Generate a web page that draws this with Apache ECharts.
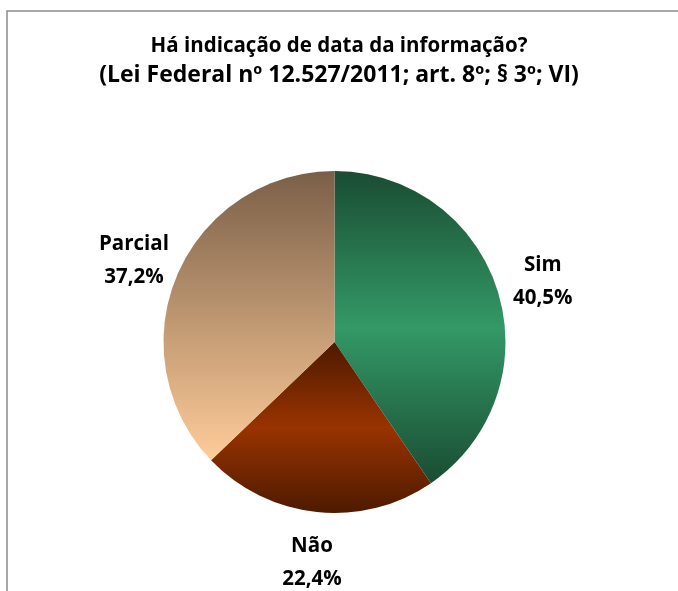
<!DOCTYPE html>
<html>
<head>
<meta charset="utf-8">
<script src="https://cdn.jsdelivr.net/npm/echarts@6/dist/echarts.min.js"></script>
<style>
  html, body { margin: 0; padding: 0; background: #fff; }
  #pieChart { width: 678px; height: 591px; }
</style>
</head>
<body>
<div id="pieChart"></div>
<script>
// categorias e valores (%)
const categories = ["Sim", "Não", "Parcial"];
const values = [40.5, 22.4, 37.2];
const valueLabels = ["40,5%", "22,4%", "37,2%"];

const chartEl = document.getElementById("pieChart");
const myChart = echarts.init(chartEl);

// centro e raio da pizza
const cx = 334.5;
const cy = 342;
const radius = 171;
const labelDist = 218;

// gradientes verticais de cada fatia
const sliceColors = [
  new echarts.graphic.LinearGradient(0, 0, 0, 1, [
    { offset: 0, color: "#1a4c33" },
    { offset: 0.5, color: "#339966" },
    { offset: 1, color: "#1a4c33" }
  ]),
  new echarts.graphic.LinearGradient(0, 0, 0, 1, [
    { offset: 0, color: "#4d1a00" },
    { offset: 0.5, color: "#993300" },
    { offset: 1, color: "#4d1a00" }
  ]),
  new echarts.graphic.LinearGradient(0, 0, 0, 1, [
    { offset: 0, color: "#7a5f48" },
    { offset: 1, color: "#ffcc99" }
  ])
];

const total = values.reduce((a, b) => a + b, 0);

// posição do rótulo a partir do ângulo médio da fatia
function labelPos(i) {
  let before = 0;
  for (let k = 0; k < i; k++) before += values[k];
  const mid = (before + values[i] / 2) / total;
  const ang = (90 - mid * 360) * Math.PI / 180;
  return {
    x: cx + labelDist * Math.cos(ang),
    y: cy - labelDist * Math.sin(ang) + 4
  };
}

const option = {
  backgroundColor: "#ffffff",
  animation: false,
  title: {
    text: "Há indicação de data da informação?",
    subtext: "(Lei Federal nº 12.527/2011; art. 8º; § 3º; VI)",
    left: "center",
    top: 31,
    itemGap: 7,
    textStyle: {
      fontFamily: "Open Sans",
      fontWeight: "bold",
      fontSize: 20.5,
      color: "#000"
    },
    subtextStyle: {
      fontFamily: "Open Sans",
      fontWeight: "bold",
      fontSize: 23,
      color: "#000"
    }
  },
  graphic: [
    {
      type: "polyline",
      shape: { points: [[7, 591], [7, 11], [678, 11]] },
      style: { stroke: "#8c8c8c", lineWidth: 1.5, fill: null },
      silent: true
    }
  ],
  series: [
    {
      type: "pie",
      center: [cx, cy],
      radius: radius,
      startAngle: 90,
      clockwise: true,
      avoidLabelOverlap: false,
      label: {
        show: true,
        position: "outside",
        formatter: function (p) {
          return p.name + "\n" + valueLabels[p.dataIndex];
        },
        fontFamily: "Open Sans",
        fontWeight: "bold",
        fontSize: 20.5,
        lineHeight: 33,
        color: "#000"
      },
      labelLine: { show: false },
      labelLayout: function (params) {
        const pos = labelPos(params.dataIndex);
        return {
          x: pos.x,
          y: pos.y,
          align: "center",
          verticalAlign: "middle"
        };
      },
      itemStyle: { borderWidth: 0 },
      emphasis: { disabled: true },
      data: categories.map((name, i) => ({
        name: name,
        value: values[i],
        itemStyle: { color: sliceColors[i] }
      }))
    }
  ]
};

myChart.setOption(option);
</script>
</body>
</html>
